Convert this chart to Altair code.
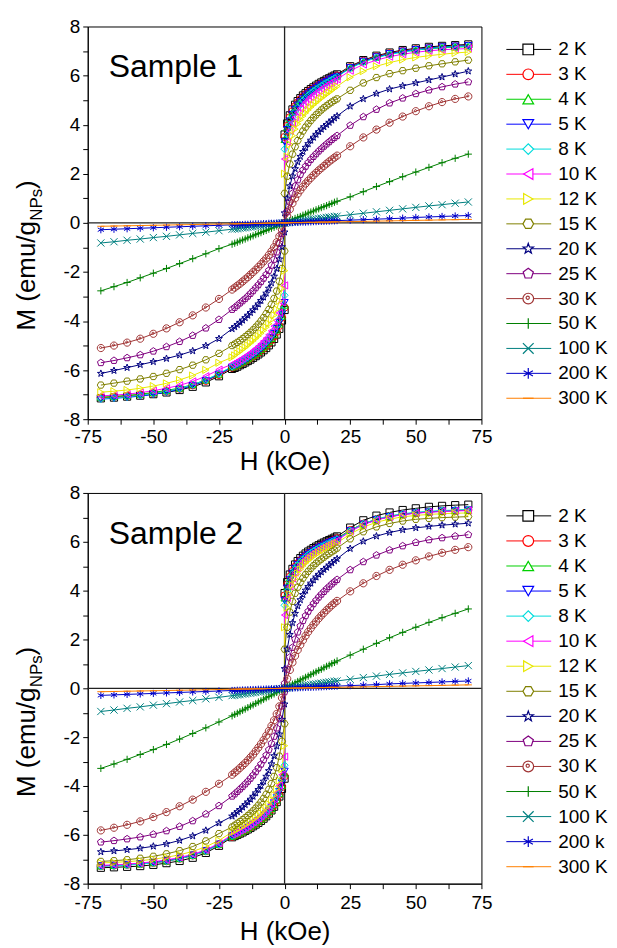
import altair as alt
import pandas as pd

TEMPS = ["2 K", "3 K", "4 K", "5 K", "8 K", "10 K", "12 K", "15 K", "20 K", "25 K", "30 K", "50 K", "100 K", "200 K", "300 K"]
LABELS_1 = ["2 K", "3 K", "4 K", "5 K", "8 K", "10 K", "12 K", "15 K", "20 K", "25 K", "30 K", "50 K", "100 K", "200 K", "300 K"]
LABELS_2 = ["2 K", "3 K", "4 K", "5 K", "8 K", "10 K", "12 K", "15 K", "20 K", "25 K", "30 K", "50 K", "100 K", "200 k", "300 K"]
COLORS = ["#000000", "#ff0000", "#00d000", "#0000ff", "#00dcdc", "#ff00ff", "#e8e800", "#808000",
          "#000080", "#800080", "#a03434", "#008000", "#008080", "#0000c8", "#ff8000"]
HEX = "M-1,0L-0.5,-0.866L0.5,-0.866L1,0L0.5,0.866L-0.5,0.866Z"
STAR = "M0,-1L0.235,-0.324L0.951,-0.309L0.38,0.124L0.588,0.809L0,0.4L-0.588,0.809L-0.38,0.124L-0.951,-0.309L-0.235,-0.324Z"
PENT = "M0,-1L0.951,-0.309L0.588,0.809L-0.588,0.809L-0.951,-0.309Z"
CIRCDOT = "M-1,0A1,1 0 1,0 1,0A1,1 0 1,0 -1,0Z M-0.4,-0.15A0.3,0.3 0 1,0 0.2,-0.15A0.3,0.3 0 1,0 -0.4,-0.15Z"
PLUS = "M-1,0L1,0M0,-1L0,1"
XSHP = "M-1,-1L1,1M-1,1L1,-1"
ASTER = "M0,-1L0,1M-0.866,-0.5L0.866,0.5M-0.866,0.5L0.866,-0.5"
DASH = "M-1,0L1,0"
SHAPES = ["square", "circle", "triangle-up", "triangle-down", "diamond", "triangle-left", "triangle-right",
          HEX, STAR, PENT, CIRCDOT, PLUS, XSHP, ASTER, DASH]

# field grid (kOe): descending half then ascending half
H_NEG = [-70, -65, -60, -55, -50, -45, -40, -35, -30, -25,
         -20, -19, -18, -17, -16, -15, -14, -13, -12, -11, -10, -9, -8, -7, -6, -5, -4, -3, -2, -1, 0]
H_POS = [0, 1, 2, 3, 4, 5, 6, 7, 8, 9, 10, 11, 12, 13, 14, 15, 16, 17, 18, 19, 20,
         25, 30, 35, 40, 45, 50, 55, 60, 65, 70]

# ---------------- Sample 1, H < 0 ----------------
S1N_2K = [-7.15, -7.12, -7.08, -7.04, -6.98, -6.91, -6.81, -6.68, -6.50, -6.25,
          -5.95, -5.91, -5.86, -5.80, -5.75, -5.69, -5.63, -5.57, -5.50, -5.43, -5.36, -5.28, -5.19, -5.10, -4.99, -4.87, -4.73, -4.55, -4.32, -3.98, -3.55]
S1N_3K = [-7.12, -7.09, -7.05, -7.00, -6.94, -6.86, -6.76, -6.62, -6.44, -6.20,
          -5.90, -5.85, -5.80, -5.75, -5.69, -5.63, -5.57, -5.51, -5.44, -5.37, -5.29, -5.21, -5.12, -5.02, -4.91, -4.78, -4.63, -4.44, -4.20, -3.86, -3.45]
S1N_4K = [-7.10, -7.07, -7.03, -6.98, -6.91, -6.83, -6.73, -6.59, -6.40, -6.16,
          -5.87, -5.82, -5.77, -5.71, -5.65, -5.59, -5.53, -5.46, -5.39, -5.32, -5.24, -5.15, -5.06, -4.96, -4.84, -4.71, -4.55, -4.36, -4.12, -3.80, -3.35]
S1N_5K = [-7.18, -7.15, -7.11, -7.06, -6.99, -6.90, -6.78, -6.63, -6.43, -6.17,
          -5.88, -5.83, -5.78, -5.72, -5.66, -5.60, -5.53, -5.46, -5.39, -5.31, -5.23, -5.14, -5.04, -4.93, -4.81, -4.67, -4.51, -4.31, -4.06, -3.72, -3.25]
S1N_8K = [-7.17, -7.13, -7.09, -7.03, -6.96, -6.87, -6.75, -6.60, -6.40, -6.14,
          -5.85, -5.79, -5.73, -5.67, -5.61, -5.54, -5.47, -5.40, -5.32, -5.24, -5.15, -5.06, -4.96, -4.85, -4.72, -4.57, -4.40, -4.19, -3.92, -3.55, -2.95]
S1N_10K = [-7.05, -7.02, -6.98, -6.92, -6.84, -6.74, -6.62, -6.46, -6.25, -5.98,
           -5.76, -5.70, -5.64, -5.58, -5.51, -5.44, -5.37, -5.29, -5.21, -5.12, -5.03, -4.93, -4.82, -4.70, -4.56, -4.40, -4.21, -3.98, -3.67, -3.24, -2.55]
S1N_12K = [-6.90, -6.86, -6.81, -6.74, -6.65, -6.54, -6.40, -6.22, -5.99, -5.70,
           -5.48, -5.40, -5.32, -5.24, -5.16, -5.08, -4.99, -4.90, -4.81, -4.71, -4.61, -4.50, -4.38, -4.25, -4.11, -3.95, -3.76, -3.52, -3.18, -2.68, -1.95]
S1N_15K = [-6.61, -6.53, -6.45, -6.36, -6.26, -6.13, -5.98, -5.80, -5.58, -5.32,
           -5.00, -4.94, -4.87, -4.80, -4.72, -4.64, -4.55, -4.46, -4.36, -4.25, -4.13, -4.00, -3.86, -3.70, -3.53, -3.32, -3.08, -2.78, -2.38, -1.86, -1.15]
S1N_20K = [-6.14, -6.02, -5.90, -5.78, -5.66, -5.53, -5.39, -5.22, -5.01, -4.72,
           -4.32, -4.24, -4.15, -4.06, -3.97, -3.87, -3.77, -3.66, -3.55, -3.43, -3.31, -3.17, -3.03, -2.87, -2.67, -2.45, -2.18, -1.87, -1.48, -0.98, -0.38]
S1N_25K = [-5.70, -5.61, -5.50, -5.38, -5.23, -5.05, -4.84, -4.59, -4.29, -3.94,
           -3.53, -3.45, -3.36, -3.27, -3.18, -3.09, -2.99, -2.88, -2.77, -2.65, -2.53, -2.40, -2.26, -2.11, -1.94, -1.73, -1.49, -1.19, -0.84, -0.44, 0.00]
S1N_30K = [-5.10, -5.00, -4.88, -4.72, -4.52, -4.30, -4.05, -3.77, -3.45, -3.10,
           -2.72, -2.64, -2.56, -2.48, -2.39, -2.30, -2.21, -2.11, -2.01, -1.91, -1.80, -1.69, -1.57, -1.45, -1.31, -1.16, -0.99, -0.79, -0.55, -0.28, 0.00]
S1N_50K = [-2.77, -2.60, -2.43, -2.24, -2.05, -1.86, -1.66, -1.46, -1.26, -1.05,
           -0.87, -0.83, -0.79, -0.74, -0.70, -0.66, -0.61, -0.57, -0.53, -0.48, -0.44, -0.40, -0.35, -0.31, -0.26, -0.22, -0.18, -0.13, -0.09, -0.04, 0.00]
S1N_100K = [-0.82, -0.77, -0.71, -0.66, -0.60, -0.55, -0.49, -0.43, -0.38, -0.32,
            -0.26, -0.25, -0.24, -0.22, -0.21, -0.20, -0.18, -0.17, -0.16, -0.14, -0.13, -0.12, -0.11, -0.09, -0.08, -0.07, -0.05, -0.04, -0.03, -0.01, 0.00]
S1N_200K = [-0.28, -0.26, -0.24, -0.22, -0.20, -0.18, -0.16, -0.14, -0.12, -0.10,
            -0.08, -0.08, -0.07, -0.07, -0.07, -0.06, -0.06, -0.05, -0.05, -0.04, -0.04, -0.04, -0.03, -0.03, -0.02, -0.02, -0.02, -0.01, -0.01, 0.00, 0.00]
S1N_300K = [-0.14, -0.13, -0.12, -0.11, -0.10, -0.09, -0.08, -0.07, -0.06, -0.05,
            -0.04, -0.04, -0.04, -0.03, -0.03, -0.03, -0.03, -0.03, -0.02, -0.02, -0.02, -0.02, -0.02, -0.01, -0.01, -0.01, -0.01, -0.01, 0.00, 0.00, 0.00]

# ---------------- Sample 1, H > 0 ----------------
S1P_2K = [3.60, 4.05, 4.38, 4.62, 4.81, 4.96, 5.08, 5.19, 5.28, 5.37, 5.45, 5.52, 5.59, 5.66, 5.72, 5.78, 5.84, 5.89, 5.95, 6.00, 6.05,
          6.38, 6.63, 6.81, 6.94, 7.04, 7.11, 7.17, 7.21, 7.24, 7.27]
S1P_3K = [3.50, 3.95, 4.30, 4.55, 4.75, 4.90, 5.03, 5.14, 5.24, 5.33, 5.41, 5.48, 5.55, 5.62, 5.68, 5.74, 5.80, 5.85, 5.90, 5.95, 6.00,
          6.34, 6.60, 6.78, 6.91, 7.00, 7.07, 7.12, 7.16, 7.19, 7.22]
S1P_4K = [3.40, 3.90, 4.25, 4.50, 4.70, 4.86, 4.99, 5.10, 5.20, 5.29, 5.37, 5.45, 5.52, 5.59, 5.66, 5.72, 5.78, 5.83, 5.88, 5.93, 5.98,
          6.32, 6.57, 6.75, 6.88, 6.97, 7.04, 7.09, 7.13, 7.16, 7.18]
S1P_5K = [3.30, 3.80, 4.15, 4.42, 4.62, 4.79, 4.93, 5.05, 5.16, 5.25, 5.34, 5.42, 5.50, 5.57, 5.64, 5.70, 5.76, 5.82, 5.87, 5.92, 5.97,
          6.32, 6.58, 6.76, 6.89, 6.99, 7.06, 7.12, 7.17, 7.20, 7.22]
S1P_8K = [3.00, 3.60, 4.00, 4.30, 4.52, 4.70, 4.85, 4.98, 5.09, 5.19, 5.28, 5.36, 5.44, 5.51, 5.58, 5.65, 5.71, 5.77, 5.83, 5.89, 5.95,
          6.30, 6.55, 6.73, 6.86, 6.96, 7.04, 7.10, 7.15, 7.18, 7.20]
S1P_10K = [2.60, 3.30, 3.75, 4.07, 4.30, 4.50, 4.66, 4.80, 4.92, 5.03, 5.13, 5.22, 5.30, 5.38, 5.46, 5.53, 5.60, 5.67, 5.73, 5.79, 5.85,
           6.20, 6.45, 6.63, 6.77, 6.87, 6.95, 7.01, 7.05, 7.08, 7.10]
S1P_12K = [2.00, 2.70, 3.20, 3.55, 3.82, 4.03, 4.20, 4.35, 4.48, 4.60, 4.71, 4.81, 4.90, 4.99, 5.08, 5.16, 5.24, 5.32, 5.40, 5.48, 5.56,
           5.93, 6.18, 6.38, 6.53, 6.65, 6.74, 6.81, 6.87, 6.92, 6.96]
S1P_15K = [1.20, 1.90, 2.40, 2.80, 3.10, 3.35, 3.56, 3.74, 3.90, 4.04, 4.17, 4.29, 4.40, 4.50, 4.60, 4.69, 4.77, 4.85, 4.92, 4.99, 5.05,
           5.40, 5.70, 5.92, 6.08, 6.20, 6.30, 6.40, 6.48, 6.56, 6.63]
S1P_20K = [0.40, 1.00, 1.50, 1.90, 2.20, 2.48, 2.70, 2.90, 3.07, 3.22, 3.36, 3.48, 3.60, 3.71, 3.81, 3.91, 4.00, 4.09, 4.18, 4.27, 4.35,
           4.75, 5.05, 5.27, 5.45, 5.58, 5.70, 5.82, 5.94, 6.06, 6.18]
S1P_25K = [0.00, 0.45, 0.85, 1.20, 1.50, 1.75, 1.97, 2.15, 2.30, 2.45, 2.58, 2.70, 2.81, 2.92, 3.02, 3.12, 3.21, 3.30, 3.39, 3.47, 3.55,
           3.97, 4.32, 4.62, 4.88, 5.08, 5.26, 5.41, 5.54, 5.65, 5.74]
S1P_30K = [0.00, 0.28, 0.55, 0.80, 1.00, 1.18, 1.33, 1.47, 1.60, 1.72, 1.83, 1.94, 2.04, 2.14, 2.23, 2.32, 2.41, 2.50, 2.58, 2.66, 2.74,
           3.12, 3.48, 3.80, 4.08, 4.33, 4.55, 4.75, 4.92, 5.05, 5.15]
S1P_50K = [0.00, 0.04, 0.09, 0.13, 0.18, 0.22, 0.26, 0.31, 0.35, 0.40, 0.44, 0.48, 0.53, 0.57, 0.62, 0.66, 0.70, 0.75, 0.79, 0.84, 0.88,
           1.06, 1.27, 1.48, 1.68, 1.88, 2.07, 2.26, 2.45, 2.63, 2.80]
S1P_100K = [0.00, 0.01, 0.03, 0.04, 0.05, 0.07, 0.08, 0.09, 0.11, 0.12, 0.14, 0.15, 0.16, 0.18, 0.19, 0.20, 0.22, 0.23, 0.24, 0.26, 0.27,
            0.33, 0.39, 0.45, 0.51, 0.57, 0.63, 0.69, 0.74, 0.80, 0.85]
S1P_200K = [0.00, 0.00, 0.01, 0.01, 0.02, 0.02, 0.03, 0.03, 0.03, 0.04, 0.04, 0.05, 0.05, 0.06, 0.06, 0.06, 0.07, 0.07, 0.08, 0.08, 0.09,
            0.11, 0.13, 0.15, 0.17, 0.19, 0.22, 0.24, 0.26, 0.28, 0.30]
S1P_300K = [0.00, 0.00, 0.00, 0.01, 0.01, 0.01, 0.01, 0.01, 0.02, 0.02, 0.02, 0.02, 0.02, 0.03, 0.03, 0.03, 0.03, 0.03, 0.04, 0.04, 0.04,
            0.05, 0.06, 0.07, 0.08, 0.09, 0.10, 0.11, 0.12, 0.13, 0.14]

# ---------------- Sample 2, H < 0 ----------------
S2N_2K = [-7.35, -7.33, -7.31, -7.28, -7.23, -7.16, -7.07, -6.94, -6.74, -6.45,
          -6.10, -6.05, -6.00, -5.95, -5.90, -5.84, -5.78, -5.72, -5.65, -5.58, -5.51, -5.43, -5.34, -5.24, -5.13, -5.00, -4.85, -4.66, -4.43, -4.12, -3.70]
S2N_3K = [-7.28, -7.26, -7.23, -7.20, -7.15, -7.08, -6.98, -6.85, -6.67, -6.40,
          -6.08, -6.03, -5.98, -5.93, -5.87, -5.81, -5.75, -5.69, -5.62, -5.55, -5.47, -5.39, -5.30, -5.20, -5.08, -4.95, -4.79, -4.60, -4.36, -4.04, -3.60]
S2N_4K = [-7.27, -7.25, -7.22, -7.19, -7.14, -7.07, -6.97, -6.84, -6.66, -6.39,
          -6.06, -6.01, -5.96, -5.91, -5.85, -5.79, -5.73, -5.66, -5.59, -5.52, -5.44, -5.36, -5.27, -5.17, -5.05, -4.92, -4.76, -4.56, -4.31, -3.98, -3.50]
S2N_5K = [-7.27, -7.25, -7.22, -7.18, -7.13, -7.06, -6.96, -6.83, -6.65, -6.38,
          -6.04, -5.99, -5.94, -5.89, -5.83, -5.77, -5.70, -5.63, -5.56, -5.49, -5.41, -5.32, -5.23, -5.12, -5.00, -4.86, -4.69, -4.49, -4.23, -3.88, -3.40]
S2N_8K = [-7.29, -7.27, -7.24, -7.20, -7.15, -7.08, -6.98, -6.85, -6.67, -6.40,
          -6.04, -5.99, -5.94, -5.88, -5.82, -5.76, -5.69, -5.62, -5.55, -5.47, -5.39, -5.30, -5.20, -5.09, -4.96, -4.81, -4.63, -4.41, -4.12, -3.72, -3.15]
S2N_10K = [-7.25, -7.23, -7.20, -7.16, -7.10, -7.03, -6.93, -6.80, -6.62, -6.35,
           -5.99, -5.94, -5.89, -5.83, -5.77, -5.71, -5.64, -5.57, -5.49, -5.41, -5.33, -5.24, -5.14, -5.02, -4.89, -4.73, -4.54, -4.30, -3.98, -3.54, -2.80]
S2N_12K = [-7.15, -7.13, -7.10, -7.06, -7.00, -6.92, -6.82, -6.68, -6.49, -6.23,
           -5.89, -5.84, -5.78, -5.72, -5.66, -5.60, -5.53, -5.46, -5.38, -5.30, -5.21, -5.11, -5.00, -4.88, -4.74, -4.57, -4.37, -4.12, -3.78, -3.30, -2.35]
S2N_15K = [-7.09, -7.06, -7.02, -6.96, -6.88, -6.78, -6.65, -6.48, -6.25, -5.95,
           -5.68, -5.61, -5.53, -5.46, -5.38, -5.30, -5.21, -5.12, -5.02, -4.91, -4.79, -4.66, -4.51, -4.34, -4.14, -3.90, -3.61, -3.25, -2.78, -2.17, -1.45]
S2N_20K = [-6.70, -6.66, -6.61, -6.55, -6.47, -6.37, -6.23, -6.05, -5.82, -5.52,
           -5.24, -5.15, -5.06, -4.97, -4.87, -4.77, -4.66, -4.55, -4.43, -4.29, -4.15, -3.99, -3.81, -3.61, -3.38, -3.10, -2.77, -2.37, -1.88, -1.28, -0.65]
S2N_25K = [-6.30, -6.24, -6.17, -6.09, -5.98, -5.84, -5.66, -5.43, -5.15, -4.81,
           -4.42, -4.33, -4.23, -4.13, -4.03, -3.92, -3.81, -3.69, -3.56, -3.42, -3.27, -3.11, -2.93, -2.74, -2.52, -2.26, -1.97, -1.63, -1.22, -0.73, -0.15]
S2N_30K = [-5.82, -5.71, -5.59, -5.45, -5.27, -5.07, -4.83, -4.56, -4.24, -3.91,
           -3.54, -3.45, -3.36, -3.26, -3.16, -3.06, -2.95, -2.83, -2.71, -2.57, -2.43, -2.28, -2.12, -1.94, -1.75, -1.54, -1.31, -1.05, -0.74, -0.39, 0.00]
S2N_50K = [-3.28, -3.10, -2.91, -2.71, -2.51, -2.30, -2.08, -1.85, -1.62, -1.38,
           -1.13, -1.07, -1.02, -0.96, -0.90, -0.85, -0.79, -0.73, -0.68, -0.62, -0.56, -0.51, -0.45, -0.39, -0.34, -0.28, -0.23, -0.17, -0.11, -0.06, 0.00]
S2N_100K = [-0.95, -0.89, -0.82, -0.76, -0.69, -0.63, -0.56, -0.50, -0.43, -0.37,
            -0.30, -0.29, -0.27, -0.26, -0.24, -0.23, -0.21, -0.20, -0.18, -0.17, -0.15, -0.14, -0.12, -0.11, -0.09, -0.08, -0.06, -0.05, -0.03, -0.02, 0.00]
S2N_200K = [-0.29, -0.27, -0.25, -0.23, -0.21, -0.19, -0.17, -0.15, -0.13, -0.11,
            -0.09, -0.09, -0.08, -0.08, -0.07, -0.07, -0.06, -0.06, -0.05, -0.05, -0.04, -0.04, -0.04, -0.03, -0.03, -0.02, -0.02, -0.01, -0.01, 0.00, 0.00]
S2N_300K = [-0.14, -0.13, -0.12, -0.11, -0.10, -0.09, -0.08, -0.07, -0.06, -0.05,
            -0.04, -0.04, -0.04, -0.03, -0.03, -0.03, -0.03, -0.03, -0.02, -0.02, -0.02, -0.02, -0.02, -0.01, -0.01, -0.01, -0.01, -0.01, 0.00, 0.00, 0.00]

# ---------------- Sample 2, H > 0 ----------------
S2P_2K = [3.90, 4.35, 4.66, 4.89, 5.07, 5.21, 5.33, 5.43, 5.52, 5.60, 5.67, 5.74, 5.80, 5.86, 5.92, 5.97, 6.02, 6.07, 6.12, 6.17, 6.22,
          6.58, 6.88, 7.07, 7.20, 7.30, 7.37, 7.43, 7.47, 7.50, 7.52]
S2P_3K = [3.80, 4.25, 4.57, 4.80, 4.98, 5.12, 5.24, 5.34, 5.43, 5.51, 5.59, 5.66, 5.72, 5.78, 5.84, 5.89, 5.94, 5.99, 6.04, 6.09, 6.14,
          6.48, 6.74, 6.92, 7.04, 7.13, 7.19, 7.23, 7.26, 7.28, 7.30]
S2P_4K = [3.70, 4.18, 4.52, 4.76, 4.95, 5.10, 5.22, 5.33, 5.42, 5.50, 5.58, 5.65, 5.71, 5.77, 5.83, 5.88, 5.93, 5.98, 6.03, 6.08, 6.13,
          6.47, 6.73, 6.91, 7.03, 7.12, 7.18, 7.22, 7.25, 7.28, 7.30]
S2P_5K = [3.60, 4.10, 4.46, 4.71, 4.91, 5.07, 5.20, 5.31, 5.40, 5.48, 5.56, 5.63, 5.69, 5.75, 5.81, 5.86, 5.91, 5.96, 6.01, 6.05, 6.10,
          6.45, 6.72, 6.90, 7.03, 7.12, 7.18, 7.22, 7.26, 7.28, 7.30]
S2P_8K = [3.40, 3.98, 4.38, 4.66, 4.87, 5.04, 5.17, 5.28, 5.38, 5.47, 5.55, 5.62, 5.68, 5.74, 5.80, 5.85, 5.90, 5.95, 6.00, 6.05, 6.10,
          6.46, 6.74, 6.93, 7.06, 7.15, 7.21, 7.25, 7.28, 7.30, 7.32]
S2P_10K = [3.00, 3.70, 4.18, 4.50, 4.74, 4.92, 5.07, 5.20, 5.31, 5.40, 5.48, 5.56, 5.63, 5.69, 5.75, 5.81, 5.86, 5.91, 5.96, 6.00, 6.05,
           6.42, 6.70, 6.89, 7.02, 7.11, 7.17, 7.21, 7.24, 7.26, 7.28]
S2P_12K = [2.50, 3.30, 3.85, 4.22, 4.49, 4.70, 4.87, 5.01, 5.13, 5.23, 5.32, 5.40, 5.48, 5.55, 5.62, 5.68, 5.74, 5.80, 5.85, 5.90, 5.95,
           6.32, 6.60, 6.80, 6.93, 7.02, 7.08, 7.12, 7.15, 7.17, 7.18]
S2P_15K = [1.60, 2.50, 3.12, 3.56, 3.89, 4.14, 4.34, 4.51, 4.66, 4.79, 4.91, 5.02, 5.12, 5.21, 5.29, 5.37, 5.45, 5.52, 5.59, 5.66, 5.74,
           6.12, 6.41, 6.61, 6.75, 6.85, 6.92, 6.96, 6.99, 7.01, 7.03]
S2P_20K = [0.80, 1.60, 2.20, 2.68, 3.06, 3.37, 3.62, 3.83, 4.01, 4.16, 4.30, 4.43, 4.55, 4.66, 4.76, 4.86, 4.95, 5.04, 5.13, 5.22, 5.30,
           5.72, 6.02, 6.23, 6.38, 6.49, 6.57, 6.63, 6.68, 6.72, 6.76]
S2P_25K = [0.20, 0.78, 1.27, 1.67, 2.01, 2.30, 2.55, 2.77, 2.97, 3.15, 3.31, 3.46, 3.60, 3.73, 3.85, 3.96, 4.07, 4.17, 4.27, 4.36, 4.45,
           4.85, 5.18, 5.45, 5.66, 5.83, 5.97, 6.08, 6.16, 6.23, 6.29]
S2P_30K = [0.00, 0.39, 0.75, 1.06, 1.33, 1.57, 1.78, 1.97, 2.15, 2.31, 2.46, 2.60, 2.73, 2.86, 2.98, 3.09, 3.20, 3.30, 3.40, 3.49, 3.58,
           3.97, 4.30, 4.60, 4.85, 5.06, 5.24, 5.40, 5.55, 5.67, 5.78]
S2P_50K = [0.00, 0.06, 0.11, 0.17, 0.22, 0.28, 0.34, 0.39, 0.45, 0.50, 0.56, 0.62, 0.67, 0.73, 0.78, 0.84, 0.90, 0.95, 1.01, 1.06, 1.12,
           1.36, 1.60, 1.84, 2.07, 2.29, 2.50, 2.70, 2.89, 3.07, 3.25]
S2P_100K = [0.00, 0.02, 0.03, 0.05, 0.06, 0.08, 0.09, 0.11, 0.12, 0.14, 0.15, 0.17, 0.18, 0.20, 0.21, 0.23, 0.24, 0.26, 0.27, 0.29, 0.30,
            0.37, 0.44, 0.50, 0.57, 0.63, 0.69, 0.75, 0.81, 0.87, 0.93]
S2P_200K = [0.00, 0.00, 0.01, 0.01, 0.02, 0.02, 0.03, 0.03, 0.04, 0.04, 0.04, 0.05, 0.05, 0.06, 0.06, 0.07, 0.07, 0.08, 0.08, 0.09, 0.09,
            0.11, 0.13, 0.15, 0.18, 0.20, 0.22, 0.24, 0.26, 0.28, 0.30]
S2P_300K = [0.00, 0.00, 0.00, 0.01, 0.01, 0.01, 0.01, 0.01, 0.02, 0.02, 0.02, 0.02, 0.02, 0.03, 0.03, 0.03, 0.03, 0.04, 0.04, 0.04, 0.04,
            0.05, 0.06, 0.07, 0.08, 0.09, 0.10, 0.11, 0.12, 0.13, 0.14]

S1_NEG = [S1N_2K, S1N_3K, S1N_4K, S1N_5K, S1N_8K, S1N_10K, S1N_12K, S1N_15K, S1N_20K, S1N_25K, S1N_30K, S1N_50K, S1N_100K, S1N_200K, S1N_300K]
S1_POS = [S1P_2K, S1P_3K, S1P_4K, S1P_5K, S1P_8K, S1P_10K, S1P_12K, S1P_15K, S1P_20K, S1P_25K, S1P_30K, S1P_50K, S1P_100K, S1P_200K, S1P_300K]
S2_NEG = [S2N_2K, S2N_3K, S2N_4K, S2N_5K, S2N_8K, S2N_10K, S2N_12K, S2N_15K, S2N_20K, S2N_25K, S2N_30K, S2N_50K, S2N_100K, S2N_200K, S2N_300K]
S2_POS = [S2P_2K, S2P_3K, S2P_4K, S2P_5K, S2P_8K, S2P_10K, S2P_12K, S2P_15K, S2P_20K, S2P_25K, S2P_30K, S2P_50K, S2P_100K, S2P_200K, S2P_300K]

X_TICKS = [-75, -62.5, -50, -37.5, -25, -12.5, 0, 12.5, 25, 37.5, 50, 62.5, 75]
Y_TICKS = [-8, -7, -6, -5, -4, -3, -2, -1, 0, 1, 2, 3, 4, 5, 6, 7, 8]

FONT = "Liberation Sans"


def build_df(neg_lists, pos_lists):
    rows = []
    for s, (t, neg, pos) in enumerate(zip(TEMPS, neg_lists, pos_lists)):
        assert len(neg) == len(H_NEG), (t, "neg", len(neg))
        assert len(pos) == len(H_POS), (t, "pos", len(pos))
        i = 0
        for h, m in zip(H_NEG, neg):
            rows.append({"T": t, "s": s, "i": i, "H": h, "M": m})
            i += 1
        for h, m in zip(H_POS, pos):
            rows.append({"T": t, "s": s, "i": i, "H": h, "M": m})
            i += 1
    return pd.DataFrame(rows)


def text_layer(txt, x, y, size, angle=0, align="left"):
    return alt.Chart(pd.DataFrame({"t": [txt]})).mark_text(
        font=FONT, fontSize=size, angle=angle, align=align, baseline="alphabetic", color="black"
    ).encode(text="t:N", x=alt.value(x), y=alt.value(y))


def panel(df, sample_name, labels, plot_h, leg_range, lab_pad, title_pad):
    xsc = alt.Scale(domain=[-75, 75], nice=False, zero=False)
    ysc = alt.Scale(domain=[-8, 8], nice=False, zero=False)
    xax = alt.Axis(values=X_TICKS, labelExpr="datum.value % 25 == 0 ? '' + datum.value : ''",
                   title="H (kOe)", labelPadding=lab_pad, titlePadding=title_pad)
    yax = alt.Axis(values=Y_TICKS, labelExpr="datum.value % 2 == 0 ? '' + datum.value : ''",
                   title=None)
    colsc = alt.Scale(domain=TEMPS, range=COLORS)
    shpsc = alt.Scale(domain=TEMPS, range=SHAPES)
    col = alt.Color("T:N", scale=colsc, legend=None)
    shp = alt.Shape("T:N", scale=shpsc, legend=None)
    X = alt.X("H:Q", scale=xsc, axis=xax)
    Y = alt.Y("M:Q", scale=ysc, axis=yax)

    zero = pd.DataFrame({"v": [0]})
    vrule = alt.Chart(zero).mark_rule(color="#222222", strokeWidth=1.3).encode(
        x=alt.X("v:Q", scale=xsc, axis=xax))
    hrule = alt.Chart(zero).mark_rule(color="#222222", strokeWidth=1.3).encode(
        y=alt.Y("v:Q", scale=ysc, axis=yax))
    base = alt.Chart(df)
    lines = base.mark_line(strokeWidth=1).encode(x=X, y=Y, color=col, order=alt.Order("i:Q"))
    pts = base.mark_point(filled=False, size=52, strokeWidth=1, opacity=1).encode(
        x=X, y=Y, color=col, shape=shp, order=alt.Order("s:Q"))

    t_sample = text_layer(sample_name, 21, 51, 32)
    t1 = text_layer("M (emu/g", -53, 305, 26, angle=270)
    t2 = text_layer("NPs", -46, 195, 17, angle=270)
    t3 = text_layer(")", -53, 163, 26, angle=270)

    data_layer = alt.layer(vrule, hrule, lines, pts, t_sample, t1, t2, t3)

    ldf = pd.DataFrame({"T": TEMPS, "label": labels})
    ly = alt.Y("T:N", scale=alt.Scale(type="point", domain=TEMPS, range=leg_range, padding=0), axis=None)
    leg_rule = alt.Chart(ldf).mark_rule(strokeWidth=1).encode(
        x=alt.value(420), x2=alt.value(465), y=ly, color=col)
    leg_pt = alt.Chart(ldf).mark_point(filled=False, fill="white", size=115, strokeWidth=1.2, opacity=1).encode(
        x=alt.value(442), y=ly, color=col, shape=shp)
    leg_txt = alt.Chart(ldf).mark_text(font=FONT, fontSize=19, align="left", baseline="middle", color="black").encode(
        x=alt.value(472), y=ly, text="label:N")
    legend_layer = alt.layer(leg_rule, leg_pt, leg_txt)

    return alt.layer(data_layer, legend_layer).resolve_scale(y="independent").properties(
        width=395, height=plot_h)


df1 = build_df(S1_NEG, S1_POS)
df2 = build_df(S2_NEG, S2_POS)

p1 = panel(df1, "Sample 1", LABELS_1, 394, [23, 373], 3, 2)
p2 = panel(df2, "Sample 2", LABELS_2, 392, [23, 375], 5, 6)

chart = alt.vconcat(p1, p2, spacing=8).properties(
    padding={"left": 5, "top": 7, "right": 0, "bottom": 0}
).configure(font=FONT).configure_view(
    stroke="black", strokeWidth=1
).configure_axis(
    grid=False, domainColor="black", domainWidth=1, tickColor="black", tickWidth=1, tickSize=5,
    labelColor="black", labelFont=FONT, labelFontSize=19, labelPadding=3,
    titleColor="black", titleFont=FONT, titleFontSize=26, titleFontWeight="normal", titlePadding=2,
    labelFlush=False
)

chart.save("out.html", embed_options={"renderer": "svg", "actions": False})
